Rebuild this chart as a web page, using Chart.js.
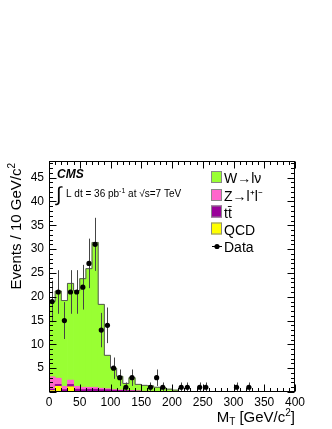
<!DOCTYPE html>
<html>
<head>
<meta charset="utf-8">
<script src="https://cdn.jsdelivr.net/npm/chart.js@4"></script>
<style>
body { margin: 0; background: #fff; }
</style>
</head>
<body>
<canvas id="mtChart" width="332" height="429"></canvas>
<script>
// MC histograms, 10 GeV bins starting at 0 (bin centres)
let binCentres = [5, 15, 25, 35, 45, 55, 65, 75, 85, 95, 105, 115, 125, 135, 145, 155, 165, 175, 185, 195, 205];
let wlnu  = [15.8, 18.3, 18.0, 20.3, 20.1, 22.8, 24.9, 30.4, 17.6, 7.0, 4.5, 2.85, 1.45, 2.7, 1.35, 1.25, 1.15, 0.9, 0.8, 0.5, 0.35];
let zll   = [2.6, 1.3, 0.7, 0.9, 0.6, 0.5, 0.4, 0.4, 0.3, 0.2, 0.1, 0.1, 0.05, 0.05, 0.05, 0, 0, 0, 0, 0, 0];
let ttbar = [0.3, 0.4, 0.4, 0.5, 0.5, 0.5, 0.6, 0.6, 0.5, 0.5, 0.4, 0.35, 0.3, 0.25, 0.2, 0.15, 0.15, 0.1, 0.1, 0.1, 0.05];
let qcd   = [0.3, 1.2, 0.1, 1.1, 0.1, 0, 0, 0, 0, 0, 0, 0, 0, 0, 0, 0, 0, 0, 0, 0, 0];

// observed events
let dataX   = [5, 15, 25, 35, 45, 55, 65, 75, 85, 95, 105, 115, 125, 135, 165, 175, 185, 215, 225, 245, 255, 305, 325];
let dataY   = [19, 21, 15, 21, 21, 22, 27, 31, 13, 14, 5, 3, 1, 3, 1, 3, 1, 1, 1, 1, 1, 1, 1];
let dataErr = [4.36, 4.58, 3.87, 4.58, 4.58, 4.69, 5.2, 5.57, 3.61, 3.74, 2.24, 1.73, 1, 1.73, 1, 1.73, 1, 1, 1, 1, 1, 1, 1];

let xTicks = [0, 50, 100, 150, 200, 250, 300, 350, 400];
let yTicks = [5, 10, 15, 20, 25, 30, 35, 40, 45];

let legendLabels = ['W\u2192l\u03BD', 'Z\u2192l\u207Al\u207B', 'tt\u0304', 'QCD', 'Data'];
let colW = '#99ff33', colZ = '#ff66cc', colTT = '#990099', colQCD = '#ffff00';

const FONT = "'Liberation Sans', Arial, Helvetica, sans-serif";

function pts(vals) {
    return binCentres.map((x, i) => ({ x: x, y: vals[i] }));
}

// step outline of the whole stack
function outline() {
    let out = [{ x: 0, y: 0 }];
    binCentres.forEach((c, i) => {
        out.push({ x: c - 5, y: wlnu[i] + zll[i] + ttbar[i] + qcd[i] });
    });
    let last = out[out.length - 1];
    out.push({ x: last.x + 10, y: last.y });
    out.push({ x: last.x + 10, y: 0 });
    return out;
}

// text with sub/superscripts, parts = [text, size, dy, style]
function richText(ctx, parts, x, y, align) {
    let w = 0;
    parts.forEach(p => {
        ctx.font = (p[3] || '') + ' ' + p[1] + 'px ' + FONT;
        w += ctx.measureText(p[0]).width;
    });
    let cx = align == 'right' ? x - w : x;
    ctx.textAlign = 'left';
    ctx.textBaseline = 'alphabetic';
    parts.forEach(p => {
        ctx.font = (p[3] || '') + ' ' + p[1] + 'px ' + FONT;
        ctx.fillText(p[0], cx, y + (p[2] || 0));
        cx += ctx.measureText(p[0]).width;
    });
}

const rootStyle = {
    id: 'rootStyle',
    beforeDatasetDraw(chart, args) {
        if (args.index !== 5) return;
        const ctx = chart.ctx, xs = chart.scales.x, ys = chart.scales.y;
        ctx.save();
        ctx.strokeStyle = '#444';
        ctx.lineWidth = 1;
        dataX.forEach((x, i) => {
            let px = Math.round(xs.getPixelForValue(x)) + 0.5;
            ctx.beginPath();
            ctx.moveTo(px, ys.getPixelForValue(dataY[i] + dataErr[i]));
            ctx.lineTo(px, ys.getPixelForValue(Math.max(0, dataY[i] - dataErr[i])));
            ctx.stroke();
        });
        ctx.restore();
    },
    afterDraw(chart) {
        const ctx = chart.ctx, xs = chart.scales.x, ys = chart.scales.y;
        const a = chart.chartArea;
        const L = Math.round(a.left) + 0.5, R = Math.round(a.right) - 0.5;
        const T = Math.round(a.top) + 0.5, B = Math.round(a.bottom) - 0.5;
        ctx.save();
        ctx.strokeStyle = '#000';
        ctx.lineWidth = 1;
        ctx.strokeRect(L, T, R - L, B - T);
        ctx.beginPath();
        for (let v = 0; v <= 48; v++) {
            let len = v % 5 == 0 ? 7 : 3.5;
            let py = Math.round(ys.getPixelForValue(v)) + 0.5;
            ctx.moveTo(L, py); ctx.lineTo(L + len, py);
            ctx.moveTo(R, py); ctx.lineTo(R - len, py);
        }
        for (let v = 0; v <= 400; v += 10) {
            let len = v % 50 == 0 ? 7 : 3.5;
            let px = Math.round(xs.getPixelForValue(v)) + 0.5;
            ctx.moveTo(px, B); ctx.lineTo(px, B - len);
            ctx.moveTo(px, T); ctx.lineTo(px, T + len);
        }
        ctx.stroke();

        ctx.fillStyle = '#000';
        // axis titles
        richText(ctx, [['M', 15], ['T', 10, 3], [' [GeV/c', 15], ['2', 10, -6], [']', 15]], 295, 422, 'right');
        ctx.save();
        ctx.translate(20.5, 163);
        ctx.rotate(-Math.PI / 2);
        richText(ctx, [['Events / 10 GeV/c', 15], ['2', 10, -6]], 0, 0, 'right');
        ctx.restore();

        // CMS label and luminosity
        richText(ctx, [['CMS', 12, 0, 'italic bold']], 57, 178, 'left');
        richText(ctx, [['\u222B', 20]], 56, 201, 'left');
        richText(ctx, [['L dt = 36 pb', 10], ['-1', 7, -4], [' at \u221As=7 TeV', 10]], 66, 197, 'left');

        // legend
        let cols = [colW, colZ, colTT, colQCD];
        let rowsY = [171, 189, 205.5, 222.5];
        cols.forEach((c, i) => {
            ctx.fillStyle = c;
            ctx.fillRect(211, rowsY[i], 11, 12);
            ctx.strokeStyle = '#888';
            ctx.strokeRect(211.5, rowsY[i] + 0.5, 10, 11);
            ctx.fillStyle = '#000';
            richText(ctx, [[legendLabels[i], 14]], 224, rowsY[i] + 12, 'left');
        });
        ctx.strokeStyle = '#000';
        ctx.beginPath();
        ctx.moveTo(212, 246.5); ctx.lineTo(222, 246.5);
        ctx.stroke();
        ctx.beginPath();
        ctx.arc(217, 246.5, 2.6, 0, Math.PI * 2);
        ctx.fill();
        richText(ctx, [[legendLabels[4], 14]], 224, 251.5, 'left');
        ctx.restore();
    }
};

let ctx2 = document.getElementById('mtChart');

let c2 = new Chart(ctx2, {
    type: 'bar',
    data: {
        datasets: [
            { label: 'QCD', data: pts(qcd), backgroundColor: colQCD, stack: 'mc', order: 2, barPercentage: 1, categoryPercentage: 1, borderWidth: 0 },
            { label: 'ttbar', data: pts(ttbar), backgroundColor: colTT, stack: 'mc', order: 2, barPercentage: 1, categoryPercentage: 1, borderWidth: 0 },
            { label: 'Zll', data: pts(zll), backgroundColor: colZ, stack: 'mc', order: 2, barPercentage: 1, categoryPercentage: 1, borderWidth: 0 },
            { label: 'Wlnu', data: pts(wlnu), backgroundColor: colW, stack: 'mc', order: 2, barPercentage: 1, categoryPercentage: 1, borderWidth: 0 },
            { type: 'line', label: 'outline', data: outline(), stepped: 'before', borderColor: '#555', borderWidth: 1, pointRadius: 0, fill: false, stack: 'outline', order: 1 },
            { type: 'line', label: 'Data', data: dataX.map((x, i) => ({ x: x, y: dataY[i] })), showLine: false, pointRadius: 2.6, pointBackgroundColor: '#000', pointBorderWidth: 0, stack: 'data', order: 0 }
        ]
    },
    options: {
        responsive: false,
        animation: false,
        devicePixelRatio: 1,
        layout: { padding: { top: 161, right: 37, left: 0, bottom: 0 } },
        plugins: { legend: { display: false }, tooltip: { enabled: false } },
        scales: {
            x: {
                type: 'linear', min: 0, max: 400, offset: false,
                grid: { display: false, drawTicks: false }, border: { display: false },
                ticks: { font: { family: FONT, size: 12 }, color: '#000', padding: 3, maxRotation: 0, autoSkip: false },
                afterBuildTicks: s => { s.ticks = xTicks.map(v => ({ value: v })); },
                afterFit: s => { s.height = 37; }
            },
            y: {
                type: 'linear', min: 0, max: 48.5, stacked: true,
                grid: { display: false, drawTicks: false }, border: { display: false },
                ticks: { font: { family: FONT, size: 12 }, color: '#000', padding: 5 },
                afterBuildTicks: s => { s.ticks = yTicks.map(v => ({ value: v })); },
                afterFit: s => { s.width = 49; }
            }
        }
    },
    plugins: [rootStyle]
});
</script>
</body>
</html>
